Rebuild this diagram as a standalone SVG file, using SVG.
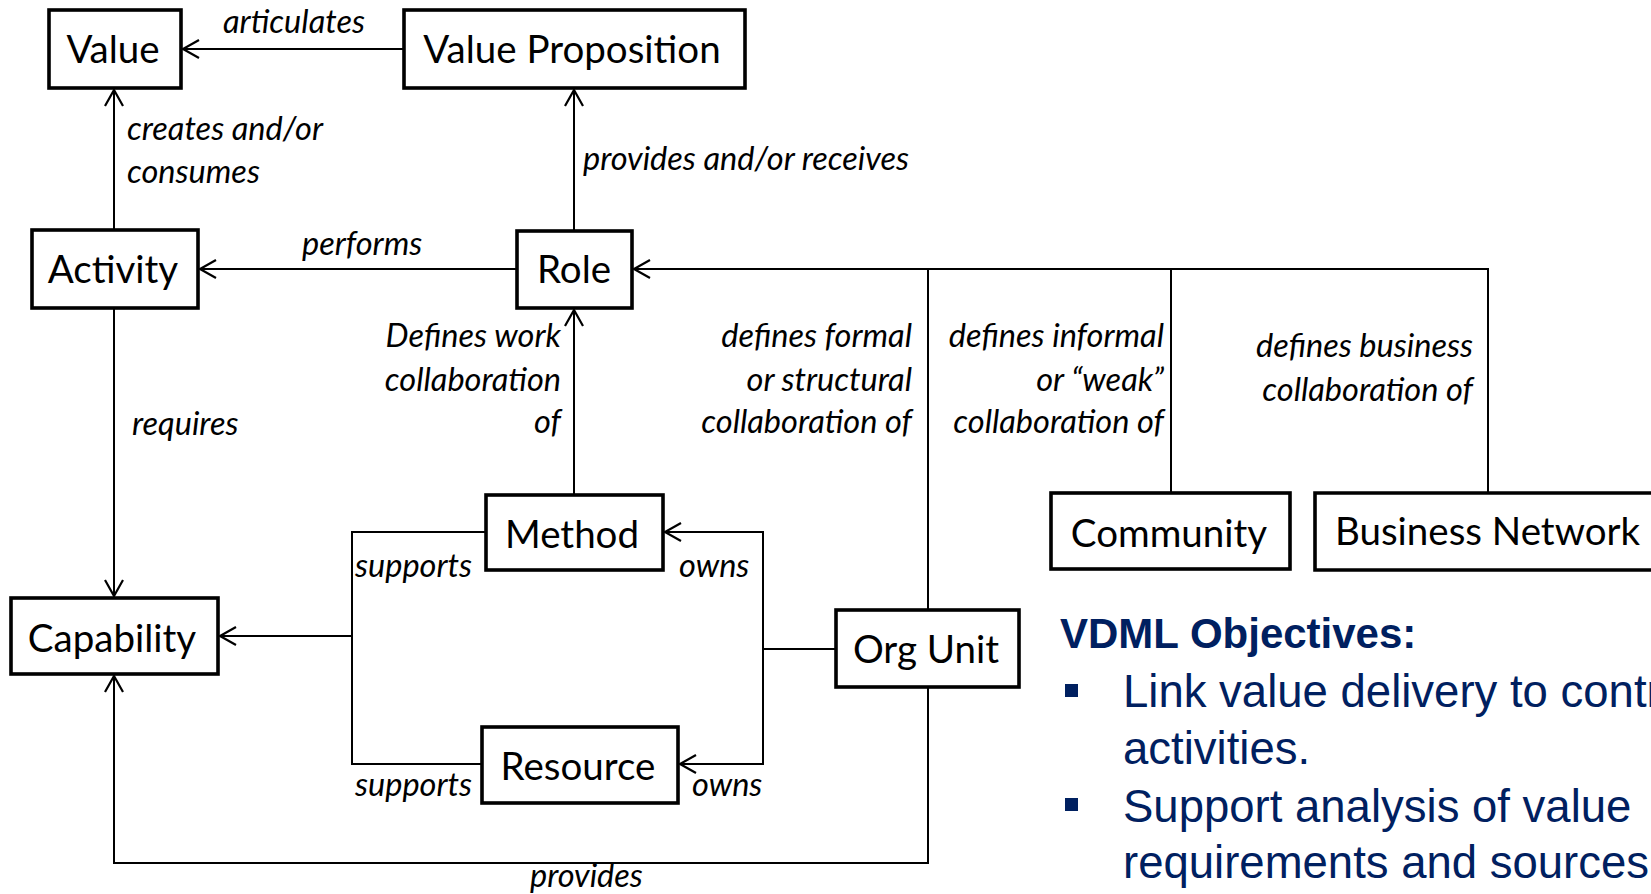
<svg xmlns="http://www.w3.org/2000/svg" width="1651" height="894" viewBox="0 0 1651 894">
<defs>
<marker id="arr" markerUnits="userSpaceOnUse" markerWidth="24" markerHeight="24" viewBox="-20 -12 24 24" refX="0" refY="0" orient="auto">
<path d="M-16,-9 L0,0 L-16,9" fill="none" stroke="#000" stroke-width="2.2"/>
</marker>
</defs>
<style>
.box{fill:#fff;stroke:#000;stroke-width:3.6}
.nt{font-family:Lato,"Open Sans",sans-serif;font-size:38.5px;fill:#000;text-anchor:middle}
.lb{font-family:Lato,"Open Sans",sans-serif;font-style:italic;font-size:32.5px;fill:#000}
.r{text-anchor:end}
.ln{fill:none;stroke:#000;stroke-width:2}
.ttl{font-family:"Liberation Sans",Arial,sans-serif;font-weight:bold;font-size:42px;fill:#002060}
.bt{font-family:"Liberation Sans",Arial,sans-serif;font-size:45.5px;fill:#002060}
</style>
<rect width="1651" height="894" fill="#fff"/>
<g id="connectors">
<path class="ln" d="M404,49 H183" marker-end="url(#arr)"/>
<path class="ln" d="M114,230 V90" marker-end="url(#arr)"/>
<path class="ln" d="M574,231 V90" marker-end="url(#arr)"/>
<path class="ln" d="M517,269 H200" marker-end="url(#arr)"/>
<path class="ln" d="M114,308 V596" marker-end="url(#arr)"/>
<path class="ln" d="M574,495 V310" marker-end="url(#arr)"/>
<path class="ln" d="M1488,493 V269 H634" marker-end="url(#arr)"/>
<path class="ln" d="M928,610 V269"/>
<path class="ln" d="M1171,493 V269"/>
<path class="ln" d="M486,532 H352 V764 H482"/>
<path class="ln" d="M352,636 H220" marker-end="url(#arr)"/>
<path class="ln" d="M836,649 H763"/>
<path class="ln" d="M763,649 V532 H665" marker-end="url(#arr)"/>
<path class="ln" d="M763,649 V764 H680" marker-end="url(#arr)"/>
<path class="ln" d="M928,687 V863 H114 V676" marker-end="url(#arr)"/>
</g>
<g id="labels">
<text class="lb" x="223" y="33">articulates</text>
<text class="lb" x="127" y="140">creates and/or</text>
<text class="lb" x="127" y="183">consumes</text>
<text class="lb" x="583" y="170">provides and/or receives</text>
<text class="lb" x="302" y="255">performs</text>
<text class="lb" x="132" y="435">requires</text>
<text class="lb r" x="561" y="347">Defines work</text>
<text class="lb r" x="561" y="391">collaboration</text>
<text class="lb r" x="561" y="433">of</text>
<text class="lb r" x="912" y="347">defines formal</text>
<text class="lb r" x="912" y="391">or structural</text>
<text class="lb r" x="912" y="433">collaboration of</text>
<text class="lb r" x="1164" y="347">defines informal</text>
<text class="lb r" x="1164" y="391">or “weak”</text>
<text class="lb r" x="1164" y="433">collaboration of</text>
<text class="lb r" x="1473" y="357">defines business</text>
<text class="lb r" x="1473" y="401">collaboration of</text>
<text class="lb" x="355" y="577">supports</text>
<text class="lb" x="355" y="796">supports</text>
<text class="lb" x="679" y="577">owns</text>
<text class="lb" x="692" y="796">owns</text>
<text class="lb" x="530" y="887">provides</text>
</g>
<g id="value"><rect class="box" x="49" y="10" width="132" height="78"/><text class="nt" x="113" y="63">Value</text></g>
<g id="value-proposition"><rect class="box" x="404" y="10" width="341" height="78"/><text class="nt" x="572" y="63">Value Proposition</text></g>
<g id="activity"><rect class="box" x="32" y="230" width="166" height="78"/><text class="nt" x="113" y="283">Activity</text></g>
<g id="role"><rect class="box" x="517" y="231" width="115" height="77"/><text class="nt" x="574" y="283">Role</text></g>
<g id="method"><rect class="box" x="486" y="495" width="177" height="75"/><text class="nt" x="572" y="548">Method</text></g>
<g id="capability"><rect class="box" x="11" y="598" width="207" height="76"/><text class="nt" x="112" y="652">Capability</text></g>
<g id="resource"><rect class="box" x="482" y="727" width="196" height="76"/><text class="nt" x="578" y="780">Resource</text></g>
<g id="org-unit"><rect class="box" x="836" y="610" width="183" height="77"/><text class="nt" x="926" y="663">Org Unit</text></g>
<g id="community"><rect class="box" x="1051" y="493" width="239" height="76"/><text class="nt" x="1169" y="547">Community</text></g>
<g id="business-network"><path class="box" d="M1655,493 H1315 V570 H1655"/><text class="nt" x="1335" y="545" style="text-anchor:start">Business Network</text></g>
<g id="objectives">
<text class="ttl" x="1060" y="648">VDML Objectives:</text>
<rect x="1065" y="684" width="13" height="13" fill="#002060"/>
<text class="bt" x="1123" y="707">Link value delivery to contr</text>
<text class="bt" x="1123" y="764">activities.</text>
<rect x="1065" y="798" width="13" height="13" fill="#002060"/>
<text class="bt" x="1123" y="822">Support analysis of value</text>
<text class="bt" x="1123" y="878">requirements and sources</text>
</g>
</svg>
